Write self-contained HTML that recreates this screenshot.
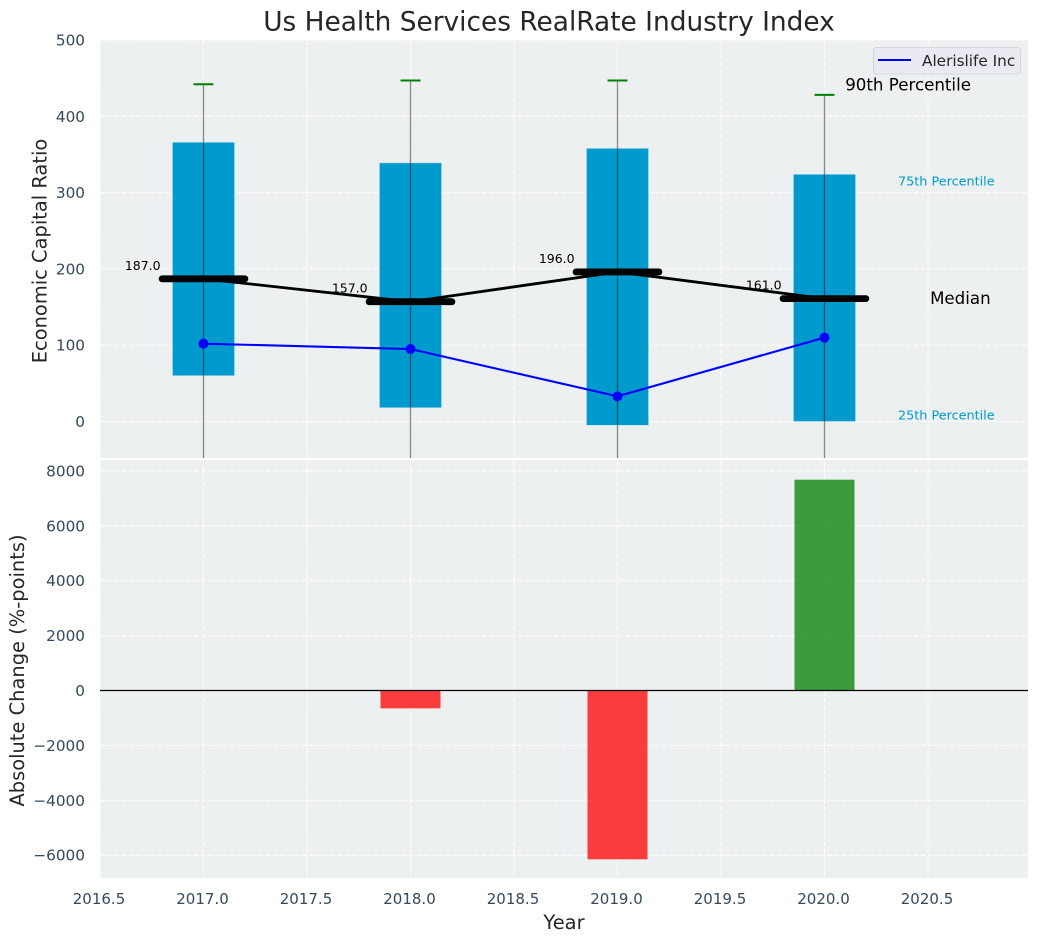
<!DOCTYPE html>
<html lang="en">
<head>
<meta charset="utf-8">
<title>Us Health Services RealRate Industry Index</title>
<style>
html,body{margin:0;padding:0;background:#fff;}
svg{display:block;font-family:"DejaVu Sans","Liberation Sans",sans-serif;}
</style>
</head>
<body>
<svg id="chart" xmlns="http://www.w3.org/2000/svg" width="1039" height="942" viewBox="0 0 1039 942">
  <defs>
    <clipPath id="clip-top"><rect x="100" y="40" width="928" height="418"/></clipPath>
    <clipPath id="clip-bottom"><rect x="100" y="460" width="928" height="418"/></clipPath>
  </defs>
  <rect x="100" y="40" width="928" height="418" fill="#ecf0f1"/>
  <rect x="100" y="460" width="928" height="418" fill="#ecf0f1"/>
  <g id="grid-top" clip-path="url(#clip-top)"></g>
  <g id="grid-bottom" clip-path="url(#clip-bottom)"></g>
  <g id="marks-top" clip-path="url(#clip-top)"></g>
  <g id="marks-bottom" clip-path="url(#clip-bottom)"></g>
  <g id="tick-labels" font-size="15.28" fill="#34495e"></g>
  <g id="annotations"></g>

  <text x="549" y="30.5" text-anchor="middle" font-size="26.4" fill="#262626">Us Health Services RealRate Industry Index</text>
  <text transform="translate(46.5,251) rotate(-90)" text-anchor="middle" font-size="19.44" fill="#262626">Economic Capital Ratio</text>
  <text transform="translate(24,670.5) rotate(-90)" text-anchor="middle" font-size="19.44" fill="#262626">Absolute Change (%-points)</text>
  <text x="564" y="929" text-anchor="middle" font-size="19.44" fill="#262626">Year</text>

  <g>
    <rect x="873.5" y="47.5" width="147" height="26.5" rx="3" fill="#eaeaf2" stroke="#d6d6da" stroke-width="1"/>
    <line x1="878" y1="60" x2="911" y2="60" stroke="#0000ff" stroke-width="2"/>
    <text x="922" y="66" font-size="15.28" fill="#262626">Alerislife Inc</text>
  </g>
</svg>
<script>
const years = [2017, 2018, 2019, 2020];
const p90 = [442, 447, 447, 428];
const p75 = [366, 339, 358, 324];
const median = [187, 157, 196, 161];
const p25 = [60, 18, -5, 0];
const p10 = [-120, -150, -170, -130];
const company = [102, 95, 33, 110];
const changeYears = [2018, 2019, 2020];
const changes = [-650, -6150, 7680];
const xTicks = [2016.5, 2017, 2017.5, 2018, 2018.5, 2019, 2019.5, 2020, 2020.5];
const yTicksTop = [0, 100, 200, 300, 400, 500];
const yTicksBottom = [-6000, -4000, -2000, 0, 2000, 4000, 6000, 8000];

const NS = 'http://www.w3.org/2000/svg';
const xScale = v => 203.5 + (v - 2017) * 207;
const xLen = v => v * 207;
const yTop = v => 421.5 - v * 0.763;
const yBottom = v => 690.5 - v * 0.02745;

function el(tag, attrs, parent, text) {
  const n = document.createElementNS(NS, tag);
  for (const k in attrs) n.setAttribute(k, attrs[k]);
  if (text !== undefined) n.textContent = text;
  parent.appendChild(n);
  return n;
}
const gridTop = document.getElementById('grid-top');
const gridBottom = document.getElementById('grid-bottom');
const marksTop = document.getElementById('marks-top');
const marksBottom = document.getElementById('marks-bottom');
const tickLabels = document.getElementById('tick-labels');
const annotations = document.getElementById('annotations');
const gridStyle = {stroke: '#ffffff', 'stroke-width': 1, 'stroke-dasharray': '5 2.2', opacity: 0.95};

xTicks.forEach(t => {
  const a = el('line', Object.assign({x1: xScale(t), x2: xScale(t), y1: 40, y2: 458}, gridStyle), gridTop);
  
  
  const b = el('line', Object.assign({x1: xScale(t), x2: xScale(t), y1: 460, y2: 878}, gridStyle), gridBottom);
  
  
  const l = el('text', {x: xScale(t) - 1, y: 904, 'text-anchor': 'middle', 'font-size': 15}, tickLabels, t.toFixed(1));
  
  
});
yTicksTop.forEach(t => {
  const a = el('line', Object.assign({x1: 100, x2: 1028, y1: yTop(t), y2: yTop(t)}, gridStyle), gridTop);
  
  
  const l = el('text', {x: 85, y: yTop(t) + 5.5, 'text-anchor': 'end'}, tickLabels, String(t));
  
  
});
yTicksBottom.forEach(t => {
  const a = el('line', Object.assign({x1: 100, x2: 1028, y1: yBottom(t), y2: yBottom(t)}, gridStyle), gridBottom);
  
  
  const l = el('text', {x: 85, y: yBottom(t) + 5.5, 'text-anchor': 'end'}, tickLabels, String(t).replace('-', '\u2212'));
  
  
});

years.forEach((yr, i) => {
  const box = el('rect', {x: xScale(yr - 0.15), width: xLen(0.3), y: yTop(p75[i]), height: yTop(p25[i]) - yTop(p75[i]), fill: '#009acd', stroke: '#bfe4f1', 'stroke-width': 0.6}, marksTop);
  
  
});
const medianLine = el('polyline', {points: years.map((yr, i) => xScale(yr) + ',' + yTop(median[i])).join(' '), fill: 'none', stroke: '#000', 'stroke-width': 2.8}, marksTop);


years.forEach((yr, i) => {
  const whisker = el('line', {x1: xScale(yr), x2: xScale(yr), y1: yTop(p90[i]), y2: yTop(p10[i]), stroke: '#000000', 'stroke-opacity': 0.45, 'stroke-width': 1.3}, marksTop);
  
  
  const cap = el('line', {x1: xScale(yr - 0.048), x2: xScale(yr + 0.048), y1: yTop(p90[i]), y2: yTop(p90[i]), stroke: '#008000', 'stroke-width': 2}, marksTop);
  
  
  const med = el('line', {x1: xScale(yr - 0.2), x2: xScale(yr + 0.2), y1: yTop(median[i]), y2: yTop(median[i]), stroke: '#000', 'stroke-width': 6.8, 'stroke-linecap': 'round'}, marksTop);
  
  
  const lab = el('text', {x: xScale(yr - 0.38), y: yTop(median[i]) - 9, 'font-size': 12.5, fill: '#000'}, annotations, median[i].toFixed(1));
  
  
});
const companyLine = el('polyline', {points: years.map((yr, i) => xScale(yr) + ',' + yTop(company[i])).join(' '), fill: 'none', stroke: '#0000ff', 'stroke-width': 2.1}, marksTop);


years.forEach((yr, i) => {
  const pt = el('circle', {cx: xScale(yr), cy: yTop(company[i]), r: 5, fill: '#0000ff'}, marksTop);
  
  
});

changeYears.forEach((yr, i) => {
  const v = changes[i];
  const bar = el('rect', {x: xScale(yr - 0.145), width: xLen(0.29), y: Math.min(yBottom(v), yBottom(0)), height: Math.abs(yBottom(v) - yBottom(0)), fill: v < 0 ? '#ff0000' : '#008000', 'fill-opacity': 0.75}, marksBottom);
  
  
});
const zero = el('line', {x1: 100, x2: 1028, y1: yBottom(0), y2: yBottom(0), stroke: '#000', 'stroke-width': 1.3}, marksBottom);



const last = years.length - 1;
const t90 = el('text', {x: xScale(years[last] + 0.1), y: yTop(p90[last]) - 4.5, 'font-size': 16.67, fill: '#000'}, annotations, '90th Percentile');


const t75 = el('text', {x: xScale(years[last] + 0.355), y: yTop(p75[last]) + 11, 'font-size': 12.8, fill: '#009acd'}, annotations, '75th Percentile');


const tMed = el('text', {x: xScale(years[last] + 0.51), y: yTop(median[last]) + 5.5, 'font-size': 16.67, fill: '#000'}, annotations, 'Median');


const t25 = el('text', {x: xScale(years[last] + 0.355), y: yTop(p25[last]) - 2, 'font-size': 12.8, fill: '#009acd'}, annotations, '25th Percentile');


</script>
</body>
</html>
